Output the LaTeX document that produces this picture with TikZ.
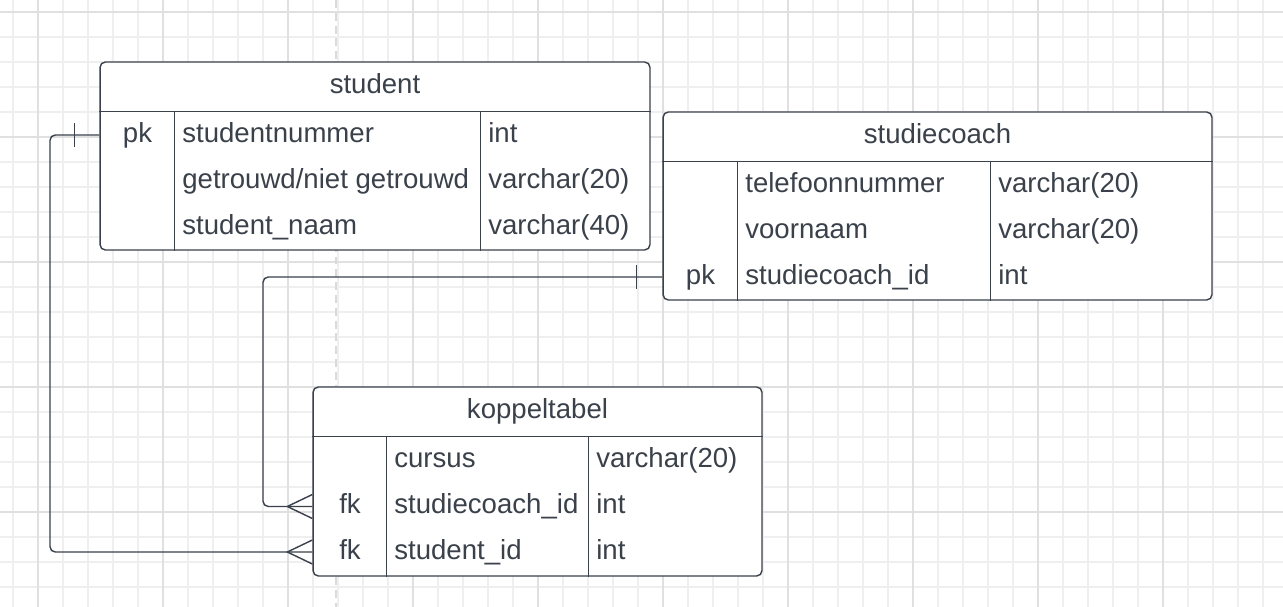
\documentclass[tikz,border=0pt]{standalone}
\usepackage{fontspec}
\setmainfont{Liberation Sans}
\usetikzlibrary{calc}
\definecolor{ink}{HTML}{3A414A}
\definecolor{gridminor}{HTML}{EFEFEF}
\definecolor{gridmajor}{HTML}{E0E0E0}
\definecolor{guide}{HTML}{DADADA}

\begin{document}
\begin{tikzpicture}[x=0.02cm,y=-0.02cm]
\tikzset{minorline/.style = {draw=gridminor, line width=0.85pt}}
\tikzset{majorline/.style = {draw=gridmajor, line width=1.1pt}}
\tikzset{table/.style = {draw=ink, fill=white, rounded corners=3pt, line width=0.8pt, inner sep=0pt}}
\tikzset{cell/.style = {text=ink, inner sep=0pt, font=\fontsize{15.7pt}{18pt}\selectfont,
		text height=11.4pt, text depth=3.4pt}}
\tikzset{rel/.style = {draw=ink, line width=0.8pt}}
\useasboundingbox (0,0) rectangle (1283,607);
\fill[white] (0,0) rectangle (1283,607);
% background grid
\foreach \x in {13,38,...,1283} \draw[minorline] (\x,0) -- (\x,607);
\foreach \y in {12,37,...,607} \draw[minorline] (0,\y) -- (1283,\y);
\foreach \x in {38,163,...,1283} \draw[majorline] (\x,0) -- (\x,607);
\foreach \y in {12,137,...,607} \draw[majorline] (0,\y) -- (1283,\y);
\draw[guide, line width=1.1pt, dash pattern=on 4.5pt off 2.8pt] (336,0) -- (336,607);

% tables
\node[table, minimum width=11cm, minimum height=3.76cm] (student) at (375,156) {};
\node[table, minimum width=10.98cm, minimum height=3.76cm] (studiecoach) at (937.5,206) {};
\node[table, minimum width=8.98cm, minimum height=3.78cm] (koppel) at (537.5,481.5) {};

% header lines and columns
\draw[rel] ($(student.north west)+(0,50)$) -- ($(student.north east)+(0,50)$);
\draw[rel] ($(student.north west)+(75,50)$) -- ($(student.south west)+(75,0)$);
\draw[rel] ($(student.north west)+(381,50)$) -- ($(student.south west)+(381,0)$);
\draw[rel] ($(studiecoach.north west)+(0,50)$) -- ($(studiecoach.north east)+(0,50)$);
\draw[rel] ($(studiecoach.north west)+(75,50)$) -- ($(studiecoach.south west)+(75,0)$);
\draw[rel] ($(studiecoach.north west)+(328,50)$) -- ($(studiecoach.south west)+(328,0)$);
\draw[rel] ($(koppel.north west)+(0,50)$) -- ($(koppel.north east)+(0,50)$);
\draw[rel] ($(koppel.north west)+(74,50)$) -- ($(koppel.south west)+(74,0)$);
\draw[rel] ($(koppel.north west)+(276,50)$) -- ($(koppel.south west)+(276,0)$);

% student
\node[cell] (student-t) at ($(student.north)+(0,25)$) {student};
\node[cell] (spk) at (137.5,135) {pk};
\node[cell, anchor=west] (s1) at (182,135) {studentnummer};
\node[cell, anchor=west] (s1t) at (488,135) {int};
\node[cell, anchor=west] (s2) at (182,181) {getrouwd/niet getrouwd};
\node[cell, anchor=west] (s2t) at (488,181) {varchar(20)};
\node[cell, anchor=west] (s3) at (182,227) {student\_naam};
\node[cell, anchor=west] (s3t) at (488,227) {varchar(40)};

% studiecoach
\node[cell] (studiecoach-t) at ($(studiecoach.north)+(0,25)$) {studiecoach};
\node[cell, anchor=west] (c1) at (745,185) {telefoonnummer};
\node[cell, anchor=west] (c1t) at (998,185) {varchar(20)};
\node[cell, anchor=west] (c2) at (745,231) {voornaam};
\node[cell, anchor=west] (c2t) at (998,231) {varchar(20)};
\node[cell] (cpk) at (700.5,277) {pk};
\node[cell, anchor=west] (c3) at (745,277) {studiecoach\_id};
\node[cell, anchor=west] (c3t) at (998,277) {int};

% koppeltabel
\node[cell] (koppel-t) at ($(koppel.north)+(0,25)$) {koppeltabel};
\node[cell, anchor=west] (k1) at (394,460) {cursus};
\node[cell, anchor=west] (k1t) at (596,460) {varchar(20)};
\node[cell] (kfk1) at (350,506.5) {fk};
\node[cell, anchor=west] (k2) at (394,506.5) {studiecoach\_id};
\node[cell, anchor=west] (k2t) at (596,506.5) {int};
\node[cell] (kfk2) at (350,552) {fk};
\node[cell, anchor=west] (k3) at (394,552) {student\_id};
\node[cell, anchor=west] (k3t) at (596,552) {int};

% relations
\coordinate (lane1) at (50,0);
\coordinate (lane2) at (263,0);
\draw[rel, rounded corners=3pt] (student.west |- spk) -| (lane1 |- kfk2) -- (koppel.west |- kfk2);
\draw[rel, rounded corners=3pt] (studiecoach.west |- cpk) -| (lane2 |- kfk1) -- (koppel.west |- kfk1);
% one side
\draw[rel] ($(student.west |- spk)+(-25,-12)$) -- ++(0,24);
\draw[rel] ($(studiecoach.west |- cpk)+(-26,-12)$) -- ++(0,24);
% many side
\draw[rel] ($(koppel.west |- kfk1)+(0,-12)$) -- ++(-25,12) -- ++(25,12);
\draw[rel] ($(koppel.west |- kfk2)+(0,-12)$) -- ++(-25,12) -- ++(25,12);
\end{tikzpicture}
\end{document}
